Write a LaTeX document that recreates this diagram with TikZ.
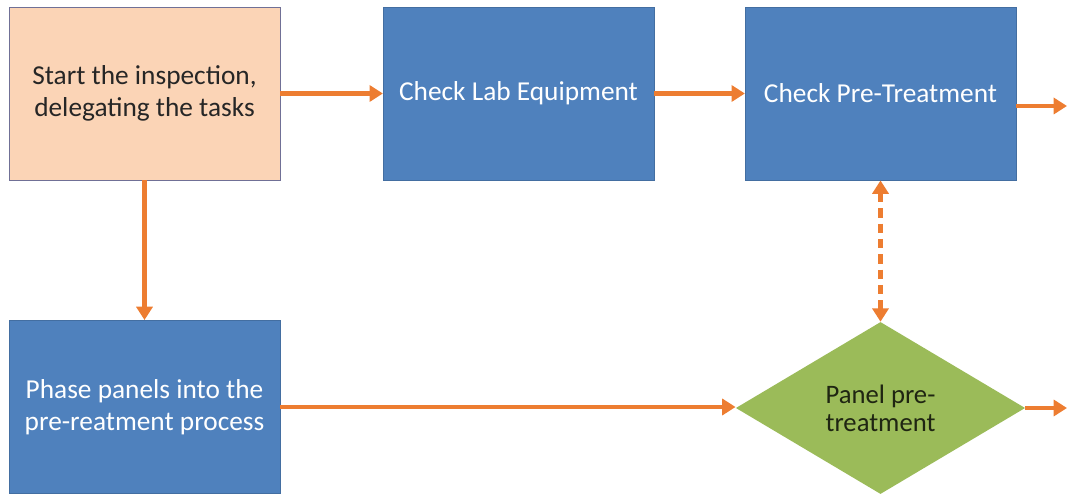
\documentclass[tikz,border=0pt]{standalone}
\usepackage{fontspec}
\setmainfont{Carlito}
\usetikzlibrary{shapes.geometric,arrows.meta}
\definecolor{taskblue}{RGB}{79,129,189}
\definecolor{startpeach}{RGB}{251,212,182}
\definecolor{startedge}{RGB}{112,112,150}
\definecolor{checkgreen}{RGB}{155,187,89}
\definecolor{flow}{RGB}{237,125,49}
\begin{document}
\begin{tikzpicture}[x=0.75pt,y=-0.75pt,
	every node/.style={font=\fontsize{20.5}{24}\selectfont, align=center},
	task/.style={rectangle, fill=taskblue, draw=taskblue!85!black, text=white,
		minimum width=203pt, minimum height=130pt},
	start/.style={task, fill=startpeach, draw=startedge, text=black!85},
	check/.style={diamond, fill=checkgreen, text=black!80!checkgreen, inner sep=0pt,
		aspect=1.69, minimum width=217pt, minimum height=129pt,
		font=\fontsize{20}{21}\selectfont},
	flowline/.style={draw=flow, line width=3.5pt, -{Triangle[length=10pt,width=12pt]}},
	both/.style={flowline, {Triangle[length=10pt,width=12pt]}-{Triangle[length=10pt,width=12pt]},
		dash pattern=on 7pt off 4.5pt}
]
\useasboundingbox (0,0) rectangle (1067,495);

\node[start] (begin) at (144.5,93.5) {Start the inspection,\\delegating the tasks};
\node[task] (lab) at (518.5,93.5) {Check Lab Equipment};
\node[task] (pre) at (880.5,93.5) {Check Pre-Treatment};
\node[task] (phase) at (144.5,407) {Phase panels into the\\pre-reatment process};
\node[check] (panel) at (880.5,408) {Panel pre-\\treatment};

\coordinate (out1) at (1067,106);
\coordinate (out2) at (1067,408);

\draw[flowline] (begin.east) -- (lab.west);
\draw[flowline] (lab.west -| lab.east) -- (pre.west);
\draw[flowline] (pre.east |- out1) -- (out1);
\draw[flowline] (begin.south) -- (phase.north);
\draw[flowline] (phase.east) -- (phase.east -| panel.west);
\draw[flowline] (panel.east) -- (out2);
\draw[both] (pre.south) -- (panel.north);
\end{tikzpicture}
\end{document}
